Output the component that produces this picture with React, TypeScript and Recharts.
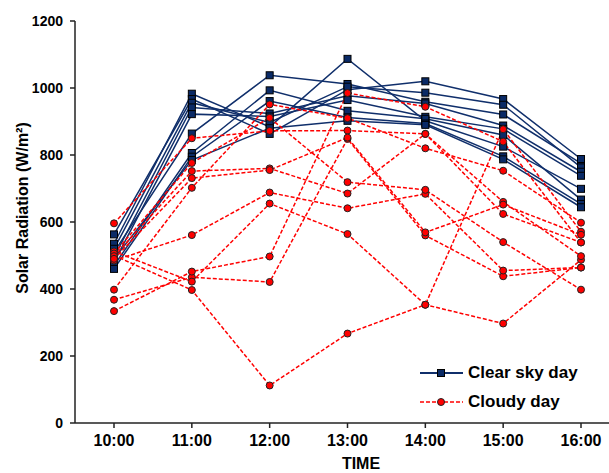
import React from 'react';
import { LineChart, Line, XAxis, YAxis } from 'recharts';

const times = ['10:00', '11:00', '12:00', '13:00', '14:00', '15:00', '16:00'];
const yTicks = [0, 200, 400, 600, 800, 1000, 1200];

// Hourly solar radiation (W/m²), one row per clear sky day
const clearSkyDays: number[][] = [
  [510, 864, 1038, 1012, 959, 921, 775],
  [535, 983, 884, 1087, 902, 825, 699],
  [563, 967, 863, 995, 1020, 967, 788],
  [520, 956, 897, 1004, 986, 950, 763],
  [495, 942, 924, 977, 954, 888, 750],
  [480, 922, 915, 964, 914, 878, 738],
  [470, 806, 993, 932, 908, 860, 667],
  [460, 795, 961, 912, 894, 796, 654],
  [490, 785, 880, 902, 890, 787, 644],
];

// Hourly solar radiation (W/m²), one row per cloudy day
const cloudyDays: number[][] = [
  [500, 397, 112, 267, 353, 297, 487],
  [368, 435, 421, 848, 560, 438, 464],
  [334, 452, 497, 985, 944, 840, 539],
  [398, 702, 951, 910, 820, 753, 598],
  [485, 561, 688, 641, 684, 455, 464],
  [512, 422, 655, 564, 353, 877, 571],
  [596, 850, 872, 873, 863, 660, 498],
  [506, 776, 911, 719, 696, 540, 398],
  [498, 752, 760, 685, 863, 624, 539],
  [490, 731, 755, 852, 569, 652, 562],
];

const FONT = '"Liberation Sans", Arial, sans-serif';
const BLUE = '#102f6b';
const BLUE_FILL = '#0a2a66';
const RED = '#ff0000';

const data = times.map((time, i) => {
  const row: Record<string, string | number> = { time };
  clearSkyDays.forEach((d, k) => (row[`clear${k}`] = d[i]));
  cloudyDays.forEach((d, k) => (row[`cloudy${k}`] = d[i]));
  return row;
});

const squareDot = (p: any) => (
  <rect
    key={`sq-${p.dataKey}-${p.index}`}
    x={p.cx - 3.5}
    y={p.cy - 3.5}
    width={7}
    height={7}
    fill={BLUE_FILL}
    stroke="#000"
    strokeWidth={1}
  />
);

const circleDot = (p: any) => (
  <circle
    key={`ci-${p.dataKey}-${p.index}`}
    cx={p.cx}
    cy={p.cy}
    r={3.5}
    fill={RED}
    stroke="#222"
    strokeWidth={1}
  />
);

const YTitle = () => {
  const cx = 22;
  const cy = 208;
  return (
    <text
      x={cx}
      y={cy}
      transform={`rotate(-90 ${cx} ${cy})`}
      textAnchor="middle"
      dominantBaseline="central"
      fontFamily={FONT}
      fontWeight={700}
      fontSize={16}
      fill="#000"
    >
      Solar Radiation (W/m²)
    </text>
  );
};

const XTitle = () => (
  <text
    x={361}
    y={463}
    textAnchor="middle"
    dominantBaseline="central"
    fontFamily={FONT}
    fontWeight={700}
    fontSize={16}
    fill="#000"
  >
    TIME
  </text>
);

const LegendBox = () => (
  <div
    style={{
      position: 'absolute',
      left: 420,
      top: 358,
      fontFamily: FONT,
      fontWeight: 700,
      fontSize: 17,
      color: '#000',
      lineHeight: 1,
      whiteSpace: 'nowrap',
    }}
  >
    <div style={{ display: 'flex', alignItems: 'center', height: 29 }}>
      <svg width={48} height={12} style={{ display: 'block' }}>
        <line x1={0} y1={6} x2={43} y2={6} stroke={BLUE} strokeWidth={2} />
        <rect x={17.5} y={2.5} width={7} height={7} fill={BLUE_FILL} stroke="#000" strokeWidth={1} />
      </svg>
      <span>Clear sky day</span>
    </div>
    <div style={{ display: 'flex', alignItems: 'center', height: 29 }}>
      <svg width={48} height={12} style={{ display: 'block' }}>
        <line x1={0} y1={6} x2={43} y2={6} stroke={RED} strokeWidth={1.5} strokeDasharray="4 2" />
        <circle cx={21} cy={6} r={3.5} fill={RED} stroke="#222" strokeWidth={1} />
      </svg>
      <span>Cloudy day</span>
    </div>
  </div>
);

export default function App() {
  return (
    <div style={{ position: 'absolute', left: 0, top: 0, width: 609, height: 473, overflow: 'hidden', background: '#fff' }}>
      <LineChart width={620} height={473} data={data} margin={{ top: 21, right: 0, bottom: 0, left: 0 }}>
        <XAxis
          dataKey="time"
          height={50}
          interval={0}
          padding={{ left: 39, right: 39 }}
          tickSize={5}
          tickMargin={7}
          stroke="#222"
          strokeWidth={1.5}
          tick={{ fontFamily: FONT, fontWeight: 700, fontSize: 16, fill: '#000' }}
          label={<XTitle />}
        />
        <XAxis
          xAxisId="top"
          dataKey="time"
          orientation="top"
          height={0}
          padding={{ left: 39, right: 39 }}
          tick={false}
          tickLine={false}
          stroke="#444"
          strokeWidth={1.5}
        />
        <YAxis
          width={75}
          domain={[0, 1200]}
          ticks={yTicks}
          interval={0}
          tickSize={5}
          tickMargin={7}
          stroke="#222"
          strokeWidth={1.5}
          tick={{ fontFamily: FONT, fontWeight: 700, fontSize: 14, fill: '#000' }}
          label={<YTitle />}
        />
        {clearSkyDays.map((_, k) => (
          <Line
            key={`clear${k}`}
            dataKey={`clear${k}`}
            stroke={BLUE}
            strokeWidth={1.5}
            dot={squareDot}
            isAnimationActive={false}
          />
        ))}
        {cloudyDays.map((_, k) => (
          <Line
            key={`cloudy${k}`}
            dataKey={`cloudy${k}`}
            stroke={RED}
            strokeWidth={1.5}
            strokeDasharray="4 2"
            dot={circleDot}
            isAnimationActive={false}
          />
        ))}
      </LineChart>
      <LegendBox />
    </div>
  );
}
